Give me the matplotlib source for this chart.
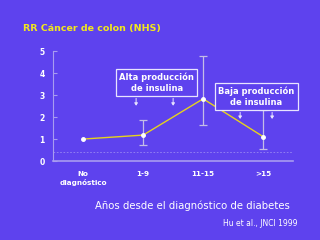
import matplotlib
matplotlib.use("Agg")
import matplotlib.pyplot as plt

categories = ["No\ndiagnóstico", "1-9", "11-15", ">15"]
rr = [1.0, 1.18, 2.83, 1.11]
ci_low = [1.0, 0.72, 1.65, 0.55]
ci_high = [1.0, 1.88, 4.8, 2.34]
yticks = [0, 1, 2, 3, 4, 5]
ref_line = 0.41

bg = "#5E42EE"
fig = plt.figure(figsize=(3.2, 2.4), dpi=100, facecolor=bg)
ax = fig.add_axes([0.166, 0.329, 0.75, 0.458], facecolor=bg)

x = list(range(len(categories)))
for xi, lo, hi in zip(x[1:], ci_low[1:], ci_high[1:]):
    ax.errorbar([xi], [(lo + hi) / 2], yerr=[[(hi - lo) / 2], [(hi - lo) / 2]],
                fmt="none", ecolor="#C4BCE6", elinewidth=0.9, capsize=3, capthick=0.9, zorder=2)

ax.plot(x, rr, color="#E6D21E", lw=1.0, zorder=3)
ax.plot(x, rr, "o", color="white", ms=2.5, zorder=4)

ax.axhline(ref_line, color="#9888F2", lw=0.6, ls=(0, (2, 2)), zorder=1)

ax.set_xlim(-0.5, 3.5)
ax.set_ylim(0, 5)
ax.set_yticks(yticks)
ax.set_xticks(x)
ax.set_xticklabels(categories, color="white", fontsize=5.2, fontweight="bold", linespacing=1.35)
ax.set_yticklabels([str(t) for t in yticks], color="white", fontsize=5.5, fontweight="bold")
ax.tick_params(axis="x", length=0, pad=7)
ax.tick_params(axis="y", direction="in", length=3, color="#A89CF0", pad=6)
for s in ["top", "right"]:
    ax.spines[s].set_visible(False)
ax.spines["left"].set_color("#A89CF0")
ax.spines["bottom"].set_color("#A89CF0")
ax.spines["left"].set_linewidth(0.8)
ax.spines["bottom"].set_linewidth(1.2)

bbox = dict(boxstyle="square,pad=0.35", fc=bg, ec="#E8E4FF", lw=0.9)
ax.text(1.225, 3.58, "Alta producción\nde insulina", ha="center", va="center",
        color="white", fontsize=6, fontweight="bold", bbox=bbox, zorder=5, linespacing=1.3)
ax.text(2.89, 2.94, "Baja producción\nde insulina", ha="center", va="center",
        color="white", fontsize=6, fontweight="bold", bbox=bbox, zorder=5, linespacing=1.3)

arrow_kw = dict(arrowstyle="-|>,head_length=0.15,head_width=0.1", color="#E8E4FF", lw=0.7)
for xa, y0, y1 in [(0.883, 2.98, 2.39), (1.5, 2.98, 2.39), (2.617, 2.34, 1.79), (3.15, 2.34, 1.79)]:
    ax.annotate("", xy=(xa, y1), xytext=(xa, y0), arrowprops=arrow_kw, zorder=4)

fig.text(0.072, 0.88, "RR Cáncer de colon (NHS)", color="#F2E81C", fontsize=6.8,
         fontweight="bold", ha="left", va="center")
fig.text(0.60, 0.142, "Años desde el diagnóstico de diabetes", color="white", fontsize=7.3,
         ha="center", va="center")
fig.text(0.93, 0.07, "Hu et al., JNCI 1999", color="white", fontsize=5.5,
         ha="right", va="center")

fig.savefig("out.png", dpi=100, facecolor=bg)
